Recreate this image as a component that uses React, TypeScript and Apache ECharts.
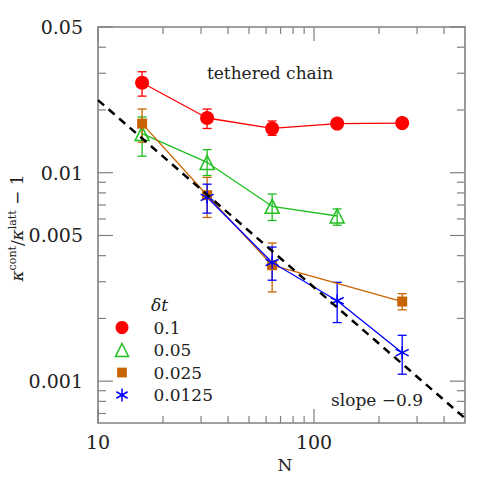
import React, { useEffect, useRef } from 'react';
import * as echarts from 'echarts';

const X_MIN = 10;
const X_MAX = 500;
const Y_MIN = 0.00063;
const Y_MAX = 0.05;

const xMajorTicks = [10, 100];
const xMinorTicks = [20, 30, 40, 50, 60, 70, 80, 90, 200, 300, 400];
const yMajorTicks = [0.001, 0.005, 0.01, 0.05];
const yMinorTicks = [0.0007, 0.0008, 0.0009, 0.002, 0.003, 0.004, 0.006, 0.007, 0.008, 0.009, 0.02, 0.03, 0.04];
const xTickLabels = ['10', '100'];
const yTickLabels = ['0.001', '0.005', '0.01', '0.05'];

const legendTitle = 'δt';
const seriesNames = ['0.1', '0.05', '0.025', '0.0125'];

const nRed = [16, 32, 64, 128, 256];
const yRed = [0.027, 0.0183, 0.0163, 0.0172, 0.0173];
const loRed = [0.0233, 0.0163, 0.0151, 0.0167, 0.0168];
const hiRed = [0.0305, 0.0202, 0.0177, 0.0177, 0.0178];

const nGreen = [16, 32, 64, 128];
const yGreen = [0.0154, 0.0112, 0.0069, 0.0062];
const loGreen = [0.012, 0.0097, 0.0059, 0.0056];
const hiGreen = [0.0185, 0.0129, 0.0079, 0.0067];

const nOrange = [16, 32, 64, 256];
const yOrange = [0.0172, 0.0078, 0.0036, 0.00241];
const loOrange = [0.014, 0.0061, 0.00268, 0.0022];
const hiOrange = [0.0202, 0.0095, 0.0046, 0.00263];

const nBlue = [32, 64, 128, 256];
const yBlue = [0.00762, 0.00371, 0.00243, 0.00137];
const loBlue = [0.0064, 0.00305, 0.00191, 0.00108];
const hiBlue = [0.00881, 0.0044, 0.00298, 0.00166];

const fitN = [10, 500];
const fitY = [0.0223, 0.000664];

const COLORS = ['#ff0000', '#1fbf1f', '#c86400', '#0000ff'];
const FRAME = '#808080';
const FONT = 'DejaVu Serif';
const ASTERISK = 'path://M6 0 L6 12 M0.8 3 L11.2 9 M0.8 9 L11.2 3';
const SMALL_SQUARE = 'path://M-1.5 -1.5 M0 0 L9 0 L9 9 L0 9 Z M10.5 10.5';

function pts(xs: number[], ys: number[]) {
  return xs.map((x, i) => [x, ys[i]]);
}
function errs(xs: number[], ys: number[], lo: number[], hi: number[]) {
  return xs.map((x, i) => [x, ys[i], lo[i], hi[i]]);
}

export default function App() {
  const ref = useRef<HTMLDivElement>(null);
  useEffect(() => {
    if (!ref.current) return;
    const chart = echarts.init(ref.current, null, { renderer: 'svg' });

    const errSeries = (name: string, data: number[][], color: string) => ({
      type: 'custom',
      name: name + '_err',
      data,
      encode: { x: 0, y: [1, 2, 3] },
      z: 2,
      silent: true,
      renderItem: (params: any, api: any) => {
        const x = api.value(0);
        const top = api.coord([x, api.value(3)]);
        const bot = api.coord([x, api.value(2)]);
        const hw = 4.5;
        const st = { stroke: color, lineWidth: 1.3 };
        return {
          type: 'group',
          children: [
            { type: 'line', shape: { x1: top[0], y1: top[1], x2: bot[0], y2: bot[1] }, style: st },
            { type: 'line', shape: { x1: top[0] - hw, y1: top[1], x2: top[0] + hw, y2: top[1] }, style: st },
            { type: 'line', shape: { x1: bot[0] - hw, y1: bot[1], x2: bot[0] + hw, y2: bot[1] }, style: st },
          ],
        };
      },
    });

    const tickSeries = (values: number[], axis: 'x' | 'y', len: number) => ({
      type: 'custom',
      data: values.map((v) => (axis === 'x' ? [v, Y_MIN] : [X_MIN, v])),
      encode: { x: 0, y: 1 },
      silent: true,
      z: 1,
      clip: false,
      renderItem: (params: any, api: any) => {
        const v = axis === 'x' ? api.value(0) : api.value(1);
        const st = { stroke: FRAME, lineWidth: 1.2 };
        if (axis === 'x') {
          const b = api.coord([v, Y_MIN]);
          const t = api.coord([v, Y_MAX]);
          return {
            type: 'group',
            children: [
              { type: 'line', shape: { x1: b[0], y1: b[1], x2: b[0], y2: b[1] - len }, style: st },
              { type: 'line', shape: { x1: t[0], y1: t[1], x2: t[0], y2: t[1] + len }, style: st },
            ],
          };
        }
        const l = api.coord([X_MIN, v]);
        const r = api.coord([X_MAX, v]);
        return {
          type: 'group',
          children: [
            { type: 'line', shape: { x1: l[0], y1: l[1], x2: l[0] + len, y2: l[1] }, style: st },
            { type: 'line', shape: { x1: r[0], y1: r[1], x2: r[0] - len, y2: r[1] }, style: st },
          ],
        };
      },
    });

    const labelSeries = (values: number[], labels: string[], axis: 'x' | 'y') => ({
      type: 'custom',
      data: values.map((v) => (axis === 'x' ? [v, Y_MIN] : [X_MIN, v])),
      encode: { x: 0, y: 1 },
      silent: true,
      clip: false,
      renderItem: (params: any, api: any) => {
        const p = api.coord([api.value(0), api.value(1)]);
        const text = labels[params.dataIndex];
        if (axis === 'x') {
          return {
            type: 'text',
            x: p[0],
            y: p[1] + 19,
            style: { text, fontFamily: FONT, fontSize: 19, fill: '#222', align: 'center', verticalAlign: 'middle' },
          };
        }
        return {
          type: 'text',
          x: p[0] - 15,
          y: p[1],
          style: { text, fontFamily: FONT, fontSize: 19, fill: '#222', align: 'right', verticalAlign: 'middle' },
        };
      },
    });

    const lineSeries = (name: string, data: number[][], color: string, symbol: string, size: number, itemStyle: any) => ({
      type: 'line',
      name,
      data,
      symbol,
      symbolSize: size,
      showSymbol: true,
      lineStyle: { color, width: 1.3 },
      itemStyle,
      z: 3,
    });

    chart.setOption({
      animation: false,
      grid: { left: 98, top: 27, right: 26, bottom: 68, show: true, borderColor: FRAME, borderWidth: 1.6, backgroundColor: 'transparent' },
      xAxis: {
        type: 'log', logBase: 10, min: X_MIN, max: X_MAX,
        axisLine: { show: false }, axisTick: { show: false }, axisLabel: { show: false }, splitLine: { show: false },
      },
      yAxis: {
        type: 'log', logBase: 10, min: Y_MIN, max: Y_MAX,
        axisLine: { show: false }, axisTick: { show: false }, axisLabel: { show: false }, splitLine: { show: false },
      },
      legend: {
        orient: 'vertical',
        left: 108,
        top: 314,
        padding: 5,
        itemWidth: 13,
        itemHeight: 13,
        itemGap: 5,
        selectedMode: false,
        textStyle: { fontFamily: FONT, fontSize: 17, color: '#222', lineHeight: 14, height: 14, padding: [0, 0, 0, 20] },
        data: [
          { name: seriesNames[0], icon: 'circle', itemStyle: { color: COLORS[0] } },
          { name: seriesNames[1], icon: 'triangle', itemStyle: { color: 'none', borderColor: COLORS[1], borderWidth: 1.5 } },
          { name: seriesNames[2], icon: SMALL_SQUARE, itemStyle: { color: COLORS[2] } },
          { name: seriesNames[3], icon: ASTERISK, itemStyle: { color: 'none', borderColor: COLORS[3], borderWidth: 1.5 } },
        ],
      },
      graphic: [
        { type: 'text', left: 151, top: 296, style: { text: legendTitle, fontFamily: FONT, fontSize: 17, fontStyle: 'italic', fill: '#222' } },
        { type: 'text', x: 270, y: 73, style: { text: 'tethered chain', fontFamily: FONT, fontSize: 17, fill: '#222', align: 'center', verticalAlign: 'middle' } },
        { type: 'text', x: 377, y: 400, style: { text: 'slope −0.9', fontFamily: FONT, fontSize: 17, fill: '#222', align: 'center', verticalAlign: 'middle' } },
        { type: 'text', x: 285, y: 465, style: { text: 'N', fontFamily: FONT, fontSize: 17, fill: '#222', align: 'center', verticalAlign: 'middle' } },
        {
          type: 'text', x: 17, y: 228, rotation: Math.PI / 2,
          style: {
            text: '{k|κ}{s|cont}{n|/}{k|κ}{s|latt}{n| − 1}',
            align: 'center', verticalAlign: 'middle', fill: '#222',
            rich: {
              k: { fontFamily: FONT, fontSize: 17, fontStyle: 'italic', fill: '#222' },
              s: { fontFamily: FONT, fontSize: 11, fill: '#222', padding: [0, 0, 10, 0] },
              n: { fontFamily: FONT, fontSize: 17, fill: '#222' },
            },
          },
        },
      ],
      series: [
        tickSeries(xMajorTicks, 'x', 14),
        tickSeries(xMinorTicks, 'x', 7),
        tickSeries(yMajorTicks, 'y', 15),
        tickSeries(yMinorTicks, 'y', 8),
        labelSeries(xMajorTicks, xTickLabels, 'x'),
        labelSeries(yMajorTicks, yTickLabels, 'y'),
        errSeries(seriesNames[0], errs(nRed, yRed, loRed, hiRed), COLORS[0]),
        errSeries(seriesNames[1], errs(nGreen, yGreen, loGreen, hiGreen), COLORS[1]),
        errSeries(seriesNames[2], errs(nOrange, yOrange, loOrange, hiOrange), COLORS[2]),
        errSeries(seriesNames[3], errs(nBlue, yBlue, loBlue, hiBlue), COLORS[3]),
        lineSeries(seriesNames[0], pts(nRed, yRed), COLORS[0], 'circle', 14, { color: COLORS[0] }),
        lineSeries(seriesNames[1], pts(nGreen, yGreen), COLORS[1], 'triangle', 14, { color: 'none', borderColor: COLORS[1], borderWidth: 1.5 }),
        lineSeries(seriesNames[2], pts(nOrange, yOrange), COLORS[2], 'rect', 10, { color: COLORS[2] }),
        lineSeries(seriesNames[3], pts(nBlue, yBlue), COLORS[3], ASTERISK, 13, { color: 'none', borderColor: COLORS[3], borderWidth: 1.5 }),
        {
          type: 'line',
          name: 'fit',
          data: pts(fitN, fitY),
          symbol: 'none',
          lineStyle: { color: '#000', width: 2.5, type: [8, 6] },
          z: 4,
          silent: true,
        },
      ],
    });
    return () => chart.dispose();
  }, []);
  return <div ref={ref} style={{ width: 491, height: 491, position: 'absolute', left: 0, top: 0 }} />;
}
